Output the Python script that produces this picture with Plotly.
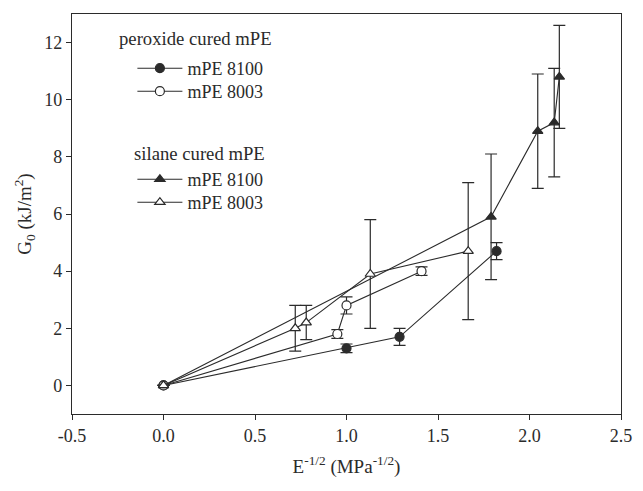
import plotly.graph_objects as go

# Peroxide-cured mPE 8100
px_8100 = [0.0, 1.00, 1.29, 1.82]
py_8100 = [0.0, 1.30, 1.70, 4.70]
pe_8100 = [0.0, 0.15, 0.30, 0.30]

# Peroxide-cured mPE 8003
px_8003 = [0.0, 0.95, 1.00, 1.41]
py_8003 = [0.0, 1.80, 2.80, 4.00]
pe_8003 = [0.0, 0.15, 0.30, 0.15]

# Silane-cured mPE 8100
sx_8100 = [0.0, 1.79, 2.045, 2.135, 2.163]
sy_8100 = [0.0, 5.90, 8.90, 9.20, 10.80]
se_8100 = [0.0, 2.20, 2.00, 1.90, 1.80]

# Silane-cured mPE 8003
sx_8003 = [0.0, 0.72, 0.78, 1.13, 1.665]
sy_8003 = [0.0, 2.00, 2.20, 3.90, 4.70]
se_8003 = [0.0, 0.80, 0.60, 1.90, 2.40]

x_ticks = [-0.5, 0.0, 0.5, 1.0, 1.5, 2.0, 2.5]
x_tick_text = ["-0.5", "0.0", "0.5", "1.0", "1.5", "2.0", "2.5"]
y_ticks = [0, 2, 4, 6, 8, 10, 12]

group_titles = ["peroxide cured mPE", "silane cured mPE"]

INK = "#2b2b2b"
FONT = "Liberation Serif"


def series(x, y, err, name, symbol, fill, legend):
    return go.Scatter(
        x=x, y=y, name=name, mode="lines+markers", showlegend=True,
        line=dict(color=INK, width=1.1),
        marker=dict(symbol=symbol, size=9, color=fill,
                    line=dict(color=INK, width=1.2)),
        error_y=dict(type="data", array=err, visible=True,
                     color=INK, thickness=1.2, width=6),
        legend=legend,
    )


fig = go.Figure()
fig.add_trace(series(px_8100, py_8100, pe_8100, "mPE 8100", "circle", INK, "legend"))
fig.add_trace(series(px_8003, py_8003, pe_8003, "mPE 8003", "circle", "white", "legend2"))
fig.add_trace(series(sx_8100, sy_8100, se_8100, "mPE 8100", "triangle-up", INK, "legend3"))
fig.add_trace(series(sx_8003, sy_8003, se_8003, "mPE 8003", "triangle-up", "white", "legend4"))

legend_common = dict(
    font=dict(family=FONT, size=18, color=INK),
    bgcolor="rgba(0,0,0,0)",
    xanchor="left", yanchor="top",
    tracegroupgap=0, x=0.11, itemwidth=45,
)

# group headings above each legend block
for text, xc, yc in zip(group_titles, [0.225, 0.232], [0.94, 0.6525]):
    fig.add_annotation(text=text, x=xc, y=yc, xref="paper", yref="paper",
                       xanchor="center", yanchor="middle", showarrow=False,
                       font=dict(family=FONT, size=18.7, color=INK))

axis_common = dict(
    ticks="outside", ticklen=5, tickwidth=1, tickcolor=INK,
    showline=True, linecolor=INK, linewidth=1.2, mirror=True,
    showgrid=False, zeroline=False, ticklabeloverflow="allow",
    tickfont=dict(family=FONT, size=18, color=INK),
)

fig.update_layout(
    width=643, height=491,
    margin=dict(l=72, r=11, t=14, b=77),
    paper_bgcolor="white", plot_bgcolor="white",
    font=dict(family=FONT, size=18, color=INK),
    showlegend=True,
    legend=dict(y=0.91, **legend_common),
    legend2=dict(y=0.8525, **legend_common),
    legend3=dict(y=0.6325, **legend_common),
    legend4=dict(y=0.575, **legend_common),
    xaxis=dict(
        range=[-0.5, 2.5], tickvals=x_ticks, ticktext=x_tick_text,
        title=dict(text="E<sup>-1/2</sup> (MPa<sup>-1/2</sup>)",
                   font=dict(family=FONT, size=19, color=INK), standoff=14),
        **axis_common,
    ),
    yaxis=dict(
        range=[-1, 13], tickvals=y_ticks,
        title=dict(text="G<sub>0</sub> (kJ/m<sup>2</sup>)",
                   font=dict(family=FONT, size=19, color=INK), standoff=7),
        **axis_common,
    ),
)

fig.write_html("out.html")
